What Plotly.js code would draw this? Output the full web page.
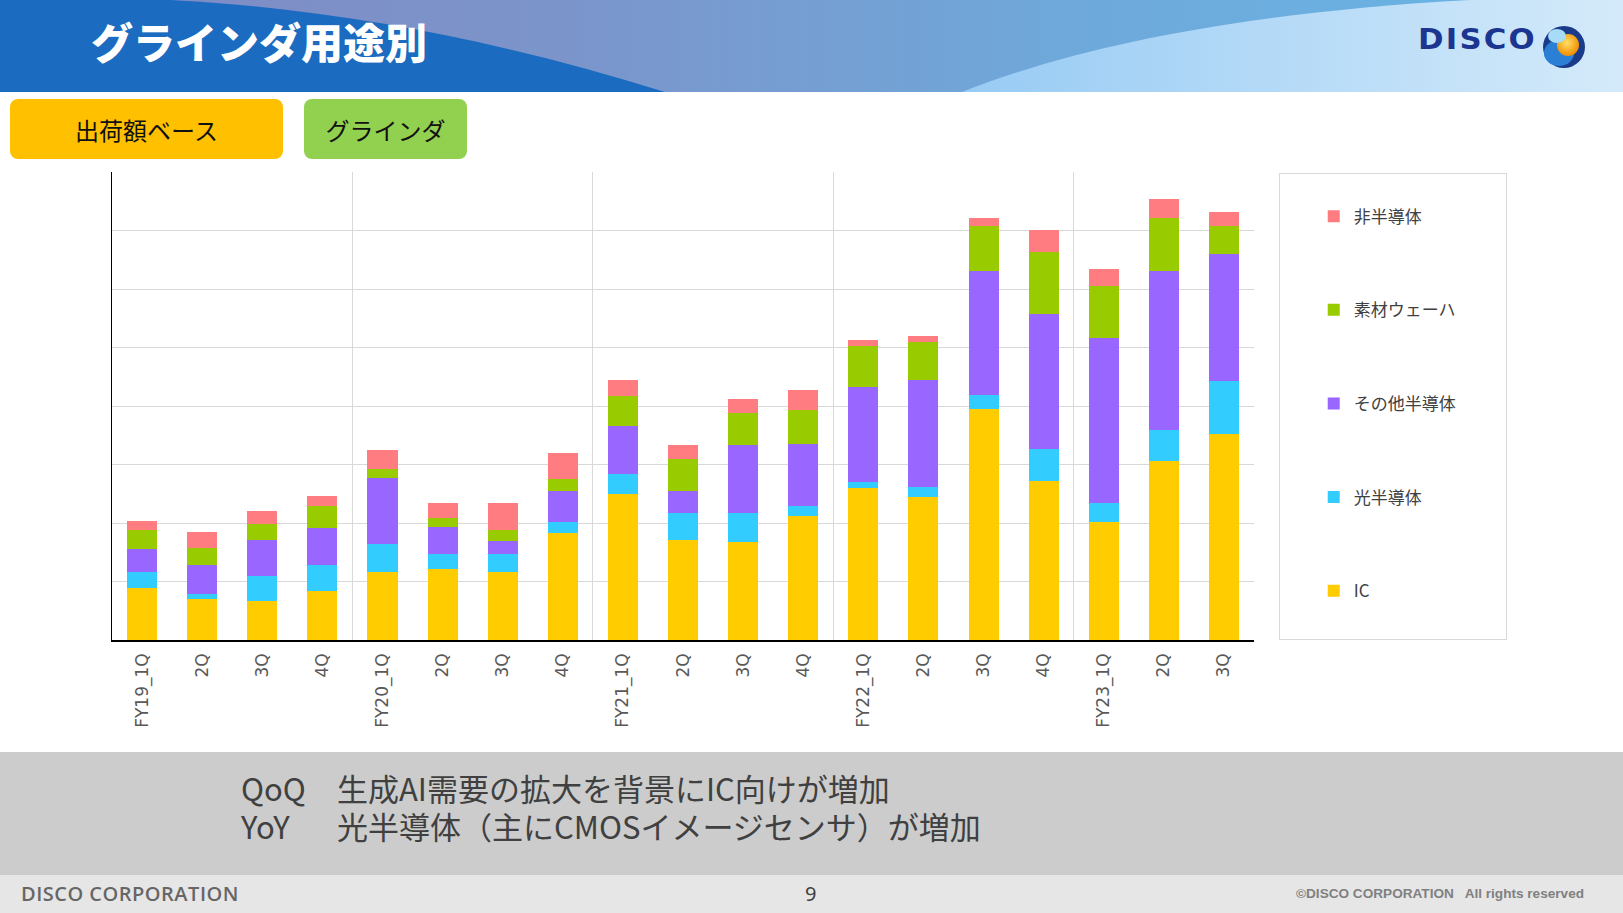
<!DOCTYPE html>
<html>
<head>
<meta charset="utf-8">
<script src="https://cdn.plot.ly/plotly-3.0.1.min.js"></script>
<style>
html,body{margin:0;padding:0;width:1623px;height:913px;overflow:hidden;background:#fff;font-family:"Noto Sans CJK JP","Noto Sans",sans-serif;}
.abs{position:absolute;}
#title{left:91px;top:10px;font-size:42px;font-weight:900;color:#fff;letter-spacing:0px;white-space:nowrap;}
#logotext{left:1418px;top:23px;font-family:"DejaVu Sans",sans-serif;font-size:28px;font-weight:bold;color:#1b3590;letter-spacing:2px;transform:scaleX(1.1);transform-origin:0 0;white-space:nowrap;}
.btn{top:99px;height:60px;border-radius:8px;display:flex;align-items:center;justify-content:center;color:#111;font-size:24px;font-weight:400;}
#btn1{left:10px;width:273px;background:#ffc000;}
#btn2{left:304px;width:163px;background:#92d050;}
#legbox{left:1279px;top:173px;width:226px;height:465px;border:1px solid #d9d9d9;}
#band{left:0;top:752px;width:1623px;height:123px;background:#cccccc;}
#strip{left:0;top:875px;width:1623px;height:38px;background:#e6e6e6;}
#notes{left:241px;top:768.5px;font-size:31px;color:#404040;white-space:pre;line-height:38px;tab-size:96px;-moz-tab-size:96px;}
#corp{left:21px;top:880px;font-family:"Open Sans",sans-serif;font-weight:600;font-size:20px;color:#666;letter-spacing:0.5px;}
#page{left:805px;top:880px;font-size:20px;color:#404040;font-family:"Noto Sans",sans-serif;}
#copy{right:39px;top:886px;font-family:"Liberation Sans",Arial,sans-serif;font-weight:bold;font-size:13.6px;color:#808080;white-space:pre;}
#chart{left:0;top:0;width:1623px;height:913px;}
</style>
</head>
<body>
<svg class="abs" style="left:0;top:0" width="1623" height="92">
  <defs>
    <linearGradient id="g1" x1="0" x2="1" y1="0" y2="0">
      <stop offset="0" stop-color="#8088c2"/>
      <stop offset="0.35" stop-color="#7b95cb"/>
      <stop offset="0.65" stop-color="#6fa8da"/>
      <stop offset="1" stop-color="#66b6e6"/>
    </linearGradient>
    <linearGradient id="g2" x1="0" x2="1" y1="0" y2="0">
      <stop offset="0" stop-color="#98cbf4"/>
      <stop offset="1" stop-color="#d4eafa"/>
    </linearGradient>
    <radialGradient id="orb" cx="0.45" cy="0.4" r="0.6">
      <stop offset="0" stop-color="#ffe066"/>
      <stop offset="1" stop-color="#f08c00"/>
    </radialGradient>
  </defs>
  <rect x="0" y="0" width="1623" height="92" fill="url(#g1)"/>
  <path d="M0,0 L170,0 C330,8 500,40 665,92 L0,92 Z" fill="#1b6bc0"/>
  <path d="M962,92 C1080,45 1250,12 1470,0 L1623,0 L1623,92 Z" fill="url(#g2)"/>
  <circle cx="1564" cy="47" r="21" fill="#1a3a8a"/>
  <ellipse cx="1559" cy="53" rx="15" ry="13" fill="#2b7fd4"/>
  <circle cx="1568" cy="45" r="11" fill="url(#orb)"/>
  <ellipse cx="1557" cy="36" rx="9" ry="7" fill="#a6dcf6"/>
</svg>
<div id="title" class="abs">グラインダ用途別</div>
<div id="logotext" class="abs">DISCO</div>
<div id="btn1" class="abs btn">出荷額ベース</div>
<div id="btn2" class="abs btn">グラインダ</div>
<div id="legbox" class="abs"></div>
<div id="band" class="abs"></div>
<div id="strip" class="abs"></div>
<div id="notes" class="abs">QoQ&#9;生成AI需要の拡大を背景にIC向けが増加
YoY&#9;光半導体（主にCMOSイメージセンサ）が増加</div>
<div id="corp" class="abs">DISCO CORPORATION</div>
<div id="page" class="abs">9</div>
<div id="copy" class="abs">©DISCO CORPORATION   All rights reserved</div>
<div id="chart" class="abs"></div>
<script>
// Quarter tick labels
var quarters = ["FY19_1Q","2Q","3Q","4Q","FY20_1Q","2Q","3Q","4Q","FY21_1Q","2Q","3Q","4Q","FY22_1Q","2Q","3Q","4Q","FY23_1Q","2Q","3Q"];
// Fiscal-year boundaries (between 4Q and next 1Q) and the right edge
var yearBoundaries = [3.5, 7.5, 11.5, 15.5, 18.5];
// Series values (one gridline = 10)
var icValues        = [8.9, 7.0, 6.6, 8.4, 11.7, 12.2, 11.65, 18.35, 25.0, 17.1, 16.8, 21.2, 26.0, 24.4, 39.5, 27.2, 20.1, 30.6, 35.2];
var opticalValues   = [2.7, 0.9, 4.4, 4.5, 4.7, 2.5, 3.1, 1.75, 3.3, 4.6, 4.9, 1.65, 1.0, 1.8, 2.4, 5.4, 3.4, 5.3, 9.0];
var otherSemiValues = [4.0, 4.9, 6.1, 6.2, 11.3, 4.7, 2.2, 5.4, 8.35, 3.85, 11.65, 10.7, 16.2, 18.2, 21.2, 23.2, 28.2, 27.2, 21.7];
var waferValues     = [3.2, 3.0, 2.7, 3.8, 1.6, 1.5, 1.8, 2.1, 5.05, 5.4, 5.45, 5.85, 7.1, 6.6, 7.6, 10.5, 8.8, 9.1, 4.8];
var nonSemiValues   = [1.5, 2.6, 2.2, 1.8, 3.2, 2.6, 4.6, 4.3, 2.7, 2.3, 2.4, 3.4, 1.0, 1.0, 1.5, 3.8, 3.0, 3.2, 2.5];

var seriesNames  = ["IC", "光半導体", "その他半導体", "素材ウェーハ", "非半導体"];
var seriesColors = ["#ffcc00", "#33ccff", "#9966ff", "#99cc00", "#ff7c80"];
var seriesValues = [icValues, opticalValues, otherSemiValues, waferValues, nonSemiValues];

var xIdx = quarters.map(function(_, i){ return i; });

var traces = seriesNames.map(function(name, k){
  return {
    type: 'bar',
    name: name,
    x: xIdx,
    y: seriesValues[k],
    legendgroup: 'g' + k,
    legendrank: seriesNames.length - k,
    marker: {color: seriesColors[k], line: {width: 0}},
    hoverinfo: 'skip'
  };
});

var layout = {
  width: 1623, height: 913,
  paper_bgcolor: 'rgba(0,0,0,0)', plot_bgcolor: 'rgba(0,0,0,0)',
  margin: {l: 112, r: 368.5, t: 172, b: 273.3, pad: 0},
  barmode: 'stack', bargap: 0.5,
  showlegend: true,
  legend: {
    x: 1.0523, xanchor: 'left', y: 0.943, yanchor: 'top',
    traceorder: 'grouped', tracegroupgap: 68.5,
    font: {family: 'Noto Sans CJK JP', size: 17, color: '#404040'},
    bgcolor: 'rgba(0,0,0,0)', borderwidth: 0
  },
  xaxis: {
    range: [-0.5, 18.5], tickmode: 'array', tickvals: xIdx, ticktext: quarters,
    tickangle: -90, tickfont: {family: 'DejaVu Sans', size: 17, color: '#595959'},
    showgrid: false, zeroline: false, showline: true, linecolor: '#000', linewidth: 1.5,
    ticks: '', ticklabelstandoff: 5,
    minor: {tickmode: 'array', tickvals: yearBoundaries, showgrid: true, gridcolor: '#d9d9d9', gridwidth: 1, ticks: ''},
    fixedrange: true
  },
  yaxis: {
    range: [0, 80], dtick: 10, showticklabels: false, showgrid: true, gridcolor: '#d9d9d9',
    zeroline: false, showline: true, linecolor: '#000', linewidth: 1.5, ticks: '', fixedrange: true
  }
};

Plotly.newPlot('chart', traces, layout, {displayModeBar: false, staticPlot: true});
</script>
</body>
</html>
